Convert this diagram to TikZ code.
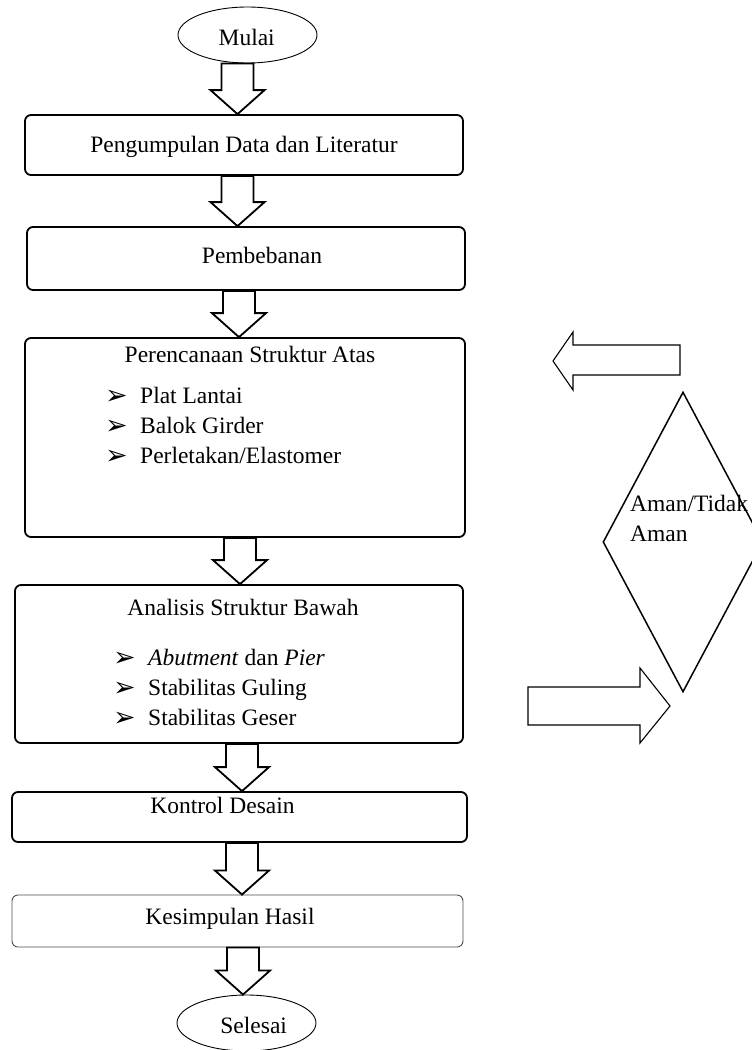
\documentclass[tikz,border=0pt]{standalone}
\usepackage{fontspec}
\setmainfont{Liberation Serif}
\newfontfamily\symfont{DejaVu Sans}
\usepackage{tikz}
\usetikzlibrary{calc,shapes.geometric,positioning}
\tikzset{
  procbox/.style  = {draw, rounded corners=6pt, line width=1.8pt, inner sep=0pt},
  thinbox/.style  = {procbox, line width=0.9pt, draw=black!70},
  termnode/.style = {ellipse, draw, line width=0.9pt, minimum width=139,
                     minimum height=56, inner sep=0pt},
  decide/.style   = {diamond, draw, line width=1.5pt, minimum width=160,
                     minimum height=300, inner sep=0pt},
  boxtxt/.style   = {anchor=base, inner sep=0pt},
  listtxt/.style  = {anchor=north west, align=left, inner sep=0pt},
  blkarr/.style   = {draw, line width=1.8pt, fill=white},
  sidearr/.style  = {draw, line width=1.1pt},
}
\newcommand{\bul}{\makebox[35pt][l]{\raisebox{-1pt}{\fontsize{27}{27}\symfont ➢}}}
\newcommand{\blockdown}[3]{%
  \path (#3,0 |- #1.south) coordinate (bt) (#3,0 |- #2.north) coordinate (bb);
  \draw[blkarr] ($(bt)+(-16,0)$) -- ($(bt)+(16,0)$) -- ($(bb)+(16,-24)$)
    -- ($(bb)+(27,-24)$) -- (bb) -- ($(bb)+(-27,-24)$) -- ($(bb)+(-16,-24)$) -- cycle;
}

\begin{document}
\begin{tikzpicture}[x=1pt, y=-1pt, font=\fontsize{23.5}{30}\selectfont]
\useasboundingbox (0,0) rectangle (752,1050);

\node[termnode] (mulai) at (247.5,35) {};
\node[boxtxt] (mulai-t) at (246.7,45) {Mulai};

\node[procbox, minimum width=438, minimum height=60] (kumpul) at (244,145) {};
\node[boxtxt] (kumpul-t) at (244,152) {Pengumpulan Data dan Literatur};

\node[procbox, minimum width=438, minimum height=63] (beban) at (246,258.5) {};
\node[boxtxt] (beban-t) at (262,263) {Pembebanan};

\node[procbox, minimum width=440, minimum height=199] (atas) at (245,437.5) {};
\node[boxtxt] (atas-t) at (250,362) {Perencanaan Struktur Atas};
\node[listtxt] (atas-l) at (105,387) {\bul Plat Lantai\\ \bul Balok Girder\\
  \bul Perletakan/Elastomer};

\node[procbox, minimum width=448, minimum height=158] (bawah) at (239,664) {};
\node[boxtxt] (bawah-t) at (243,615) {Analisis Struktur Bawah};
\node[listtxt] (bawah-l) at (113,649) {\bul\textit{Abutment} dan \textit{Pier}\\
  \bul Stabilitas Guling\\ \bul Stabilitas Geser};

\node[procbox, minimum width=455, minimum height=50] (kontrol) at (239.5,817) {};
\node[boxtxt] (kontrol-t) at (222.5,813) {Kontrol Desain};

\node[thinbox, minimum width=451, minimum height=52] (simpul) at (237.5,921) {};
\node[boxtxt] (simpul-t) at (230,924) {Kesimpulan Hasil};

\node[termnode] (selesai) at (246.5,1023) {};
\node[boxtxt] (selesai-t) at (253.7,1033) {Selesai};

% cek aman
\node[decide] (cek) at (683,542) {};
\node[listtxt] (cek-t) at (630,495) {Aman/Tidak\\Aman};

\blockdown{mulai}{kumpul}{237.5}
\blockdown{kumpul}{beban}{237.5}
\blockdown{beban}{atas}{239}
\blockdown{atas}{bawah}{240}
\blockdown{bawah}{kontrol}{242}
\blockdown{kontrol}{simpul}{242}
\blockdown{simpul}{selesai}{243}

\coordinate (ulang) at (553,361);
\coordinate (lanjut) at (670,706);
\draw[sidearr] (ulang) -- ++(20,-29) -- ++(0,13) -- ++(107,0) -- ++(0,30)
  -- ++(-107,0) -- ++(0,15) -- cycle;
\draw[sidearr] (lanjut) -- ++(-30,-38) -- ++(0,19) -- ++(-112,0) -- ++(0,38)
  -- ++(112,0) -- ++(0,18) -- cycle;
\end{tikzpicture}
\end{document}
